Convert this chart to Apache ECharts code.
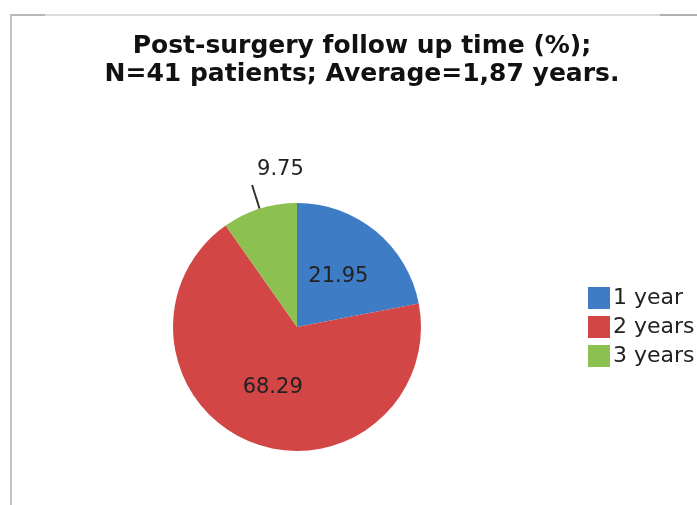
<!DOCTYPE html>
<html>
<head>
<meta charset="utf-8">
<script src="https://cdn.jsdelivr.net/npm/echarts@6/dist/echarts.min.js"></script>
<style>html,body{margin:0;padding:0;background:#fff;}#chart{width:697px;height:505px;}</style>
</head>
<body>
<div id="chart"></div>
<script>
const titleLines = ['Post-surgery follow up time (%);', 'N=41 patients; Average=1,87 years.'];
const categories = ['1 year', '2 years', '3 years'];
const values = [21.95, 68.29, 9.75];
const colors = ['#3f7cc6', '#d24646', '#8cc152'];

const chart = echarts.init(document.getElementById('chart'));
const font = 'DejaVu Sans, Verdana, sans-serif';
chart.setOption({
  animation: false,
  backgroundColor: '#ffffff',
  title: {
    text: titleLines.join('\n'),
    left: 357, top: 27, textAlign: 'center',
    textStyle: { fontFamily: font, fontWeight: 'bold', fontSize: 25, lineHeight: 28, color: '#111' }
  },
  legend: {
    orient: 'vertical', left: 583, top: 282,
    itemWidth: 22, itemHeight: 22, itemGap: 7,
    icon: 'rect',
    textStyle: { fontFamily: font, fontSize: 22, lineHeight: 22, color: '#222', padding: [0,0,0,-2] },
    data: categories
  },
  graphic: [
    { type: 'line', shape: { x1: 10, y1: 15, x2: 697, y2: 15 }, style: { stroke: '#dcdcdc', lineWidth: 2 } },
    { type: 'line', shape: { x1: 10, y1: 15, x2: 45, y2: 15 }, style: { stroke: '#b8b8b8', lineWidth: 2 } },
    { type: 'line', shape: { x1: 660, y1: 15, x2: 697, y2: 15 }, style: { stroke: '#b0b0b0', lineWidth: 2 } },
    { type: 'line', shape: { x1: 11, y1: 15, x2: 11, y2: 505 }, style: { stroke: '#c4c4c4', lineWidth: 2 } }
  ],
  series: [{
    type: 'pie',
    center: [297, 327],
    radius: 124,
    startAngle: 90,
    clockwise: true,
    silent: true,
    data: categories.map((c, i) => ({
      name: c, value: values[i],
      itemStyle: { color: colors[i] },
      label: i === 2 ? { position: 'outside' } : { position: 'inside' },
      labelLine: i === 2 ? { show: true, length: 25, length2: 0, lineStyle: { color: '#333', width: 2 } } : { show: false }
    })),
    label: {
      formatter: p => values[p.dataIndex].toFixed(2),
      fontFamily: font, fontSize: 21, color: '#222'
    },
    labelLayout: function (params) {
      if (params.dataIndex === 2) {
        return { dx: 10, dy: -15, align: 'left' };
      }
      return {};
    }
  }]
});
</script>
</body>
</html>
